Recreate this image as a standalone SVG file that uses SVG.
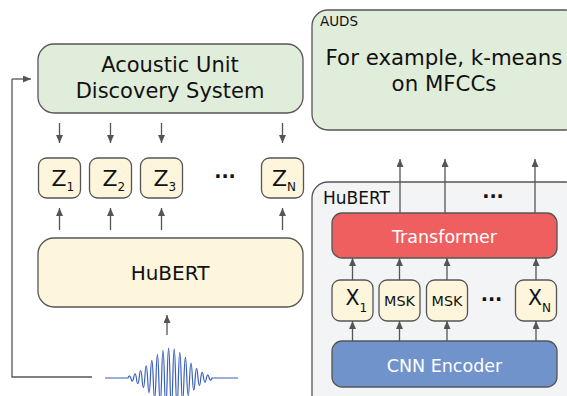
<svg xmlns="http://www.w3.org/2000/svg" width="567" height="396" viewBox="0 0 567 396">
  <style>
    text { font-family: "DejaVu Sans", "Liberation Sans", sans-serif; fill: #111; }
    .box { stroke: #555; stroke-width: 1.3; }
    .green { fill: #e1eddb; }
    .cream { fill: #fdf6dc; }
    .gray { fill: #f3f4f6; }
    .red { fill: #f05f60; }
    .blue { fill: #7193cc; }
    .wire { stroke: #555; stroke-width: 1.3; fill: none; }
    .arrow { stroke: #555; stroke-width: 1.3; fill: none; marker-end: url(#head); }
    .white { fill: #ffffff; }
    .dots { font-size: 19px; font-weight: bold; text-anchor: middle; }
    .z { font-size: 22px; }
    .x { font-size: 20.5px; }
    .sub { font-size: 12px; }
    .msk { font-size: 14.3px; text-anchor: middle; }
  </style>
  <defs>
    <marker id="head" markerUnits="userSpaceOnUse" markerWidth="9" markerHeight="8" refX="8" refY="3.5" orient="auto">
      <path d="M0,0 L8,3.5 L0,7 z" fill="#555"/>
    </marker>
  </defs>

  <!-- left pipeline -->
  <g id="auds-left">
    <rect class="box green" x="38" y="44" width="265" height="69" rx="16"/>
    <text x="170" y="71.5" font-size="21" text-anchor="middle">Acoustic Unit</text>
    <text x="170" y="98" font-size="21" text-anchor="middle">Discovery System</text>
  </g>

  <g id="z1">
    <rect class="box cream" x="38.5" y="158" width="42" height="40" rx="8"/>
    <text class="z" x="51.5" y="186">Z<tspan class="sub" dy="5">1</tspan></text>
  </g>
  <g id="z2">
    <rect class="box cream" x="89.5" y="158" width="42" height="40" rx="8"/>
    <text class="z" x="102.5" y="186">Z<tspan class="sub" dy="5">2</tspan></text>
  </g>
  <g id="z3">
    <rect class="box cream" x="140.5" y="158" width="42" height="40" rx="8"/>
    <text class="z" x="153.5" y="186">Z<tspan class="sub" dy="5">3</tspan></text>
  </g>
  <text class="dots" x="225" y="183">···</text>
  <g id="zn">
    <rect class="box cream" x="261.5" y="158" width="42" height="40" rx="8"/>
    <text class="z" x="272" y="186">Z<tspan class="sub" dy="5">N</tspan></text>
  </g>

  <g id="hubert-left">
    <rect class="box cream" x="38" y="238" width="265" height="69" rx="16"/>
    <text x="170" y="280" font-size="20" text-anchor="middle">HuBERT</text>
  </g>

  <g id="waveform">
    <path d="M105,378 L128,378
      Q129.4,373.7 130.8,378 Q132.2,384.1 133.6,378 Q135,369.5 136.4,378 Q137.8,389.4 139.2,378
      Q140.6,363 142,378 Q143.4,397.3 144.8,378 Q146.2,353.8 147.6,378 Q149,407.6 150.4,378
      Q151.8,342.7 153.2,378 Q154.6,419.1 156,378 Q157.4,331.4 158.8,378 Q160.2,429.5 161.6,378
      Q163,322.5 164.4,378 Q165.8,436.3 167.2,378 Q168.6,318.2 170,378 Q171.4,437.8 172.8,378
      Q174.2,319.7 175.6,378 Q177,433.5 178.4,378 Q179.8,326.5 181.2,378 Q182.6,424.6 184,378
      Q185.4,336.9 186.8,378 Q188.2,413.3 189.6,378 Q191,348.4 192.4,378 Q193.8,402.2 195.2,378
      Q196.6,358.7 198,378 Q199.4,393 200.8,378 Q202.2,366.6 203.6,378 Q205,386.5 206.4,378
      Q207.8,371.9 209.2,378 Q210.6,382.3 212,378 L238,378"
      fill="none" stroke="#3a5fb8" stroke-width="1.2"/>
  </g>

  <!-- right: AUDS example and HuBERT internals -->
  <g id="auds-right">
    <rect class="box green" x="312" y="10" width="270" height="120" rx="16"/>
    <text x="320" y="26" font-size="13.5">AUDS</text>
    <text x="444" y="65" font-size="21.3" text-anchor="middle">For example, k-means</text>
    <text x="444" y="91" font-size="21.3" text-anchor="middle">on MFCCs</text>
  </g>

  <g id="hubert-right">
    <rect class="box gray" x="312" y="182" width="270" height="230" rx="16"/>
    <text x="323" y="204" font-size="17">HuBERT</text>
  </g>
  <text class="dots" x="493" y="203">···</text>

  <g id="transformer">
    <rect class="box red" x="332" y="213" width="225" height="45" rx="10"/>
    <text class="white" x="444.5" y="243" font-size="17.5" text-anchor="middle">Transformer</text>
  </g>

  <g id="x1">
    <rect class="box cream" x="332" y="280" width="41" height="41" rx="8"/>
    <text class="x" x="345.5" y="304.5">X<tspan class="sub" dy="7">1</tspan></text>
  </g>
  <g id="msk1">
    <rect class="box cream" x="379" y="280" width="41" height="41" rx="8"/>
    <text class="msk" x="399.5" y="305.7">MSK</text>
  </g>
  <g id="msk2">
    <rect class="box cream" x="426.5" y="280" width="41" height="41" rx="8"/>
    <text class="msk" x="447" y="305.7">MSK</text>
  </g>
  <text class="dots" x="491.5" y="306">···</text>
  <g id="xn">
    <rect class="box cream" x="515.5" y="280" width="41" height="41" rx="8"/>
    <text class="x" x="528" y="304.5">X<tspan class="sub" dy="7">N</tspan></text>
  </g>

  <g id="cnn-encoder">
    <rect class="box blue" x="332" y="341" width="225" height="46" rx="10"/>
    <text class="white" x="444.5" y="372" font-size="17.5" text-anchor="middle">CNN Encoder</text>
  </g>

  <g id="connectors">
    <!-- AUDS to units -->
    <path class="arrow" d="M59.5,123 V143"/>
    <path class="arrow" d="M110.5,123 V143"/>
    <path class="arrow" d="M161.5,123 V143"/>
    <path class="arrow" d="M282.5,123 V143"/>
    <!-- HuBERT to units -->
    <path class="arrow" d="M59.5,230 V208"/>
    <path class="arrow" d="M110.5,230 V208"/>
    <path class="arrow" d="M161.5,230 V208"/>
    <path class="arrow" d="M282.5,230 V208"/>
    <!-- waveform to HuBERT -->
    <path class="arrow" d="M167,335 V315"/>
    <!-- waveform feedback to AUDS -->
    <path class="wire" d="M92,377 H12 V79"/>
    <path class="arrow" d="M12,79 H31"/>
    <!-- CNN encoder to frames -->
    <path class="arrow" d="M352.5,341 V321"/>
    <path class="arrow" d="M399.5,341 V321"/>
    <path class="arrow" d="M447,341 V321"/>
    <path class="arrow" d="M536,341 V321"/>
    <!-- frames to transformer -->
    <path class="arrow" d="M352.5,280 V258"/>
    <path class="arrow" d="M399.5,280 V258"/>
    <path class="arrow" d="M447,280 V258"/>
    <path class="arrow" d="M536,280 V258"/>
    <!-- transformer outputs -->
    <path class="arrow" d="M400,213 V159"/>
    <path class="arrow" d="M445,213 V159"/>
    <path class="arrow" d="M535,213 V159"/>
  </g>
</svg>
